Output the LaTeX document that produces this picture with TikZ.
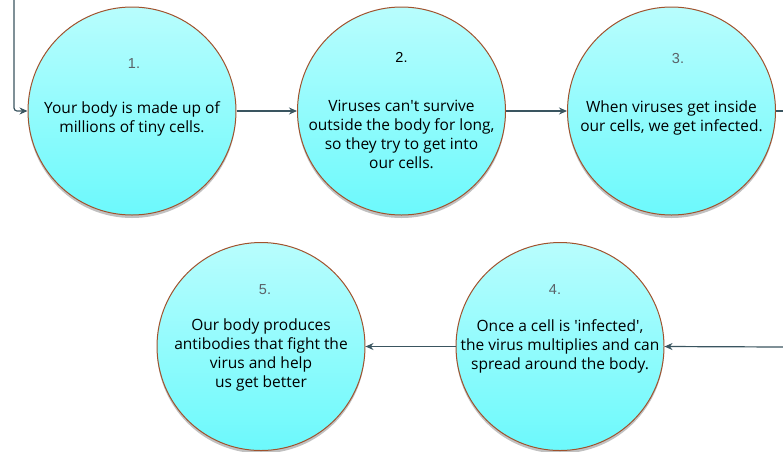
\documentclass[tikz,border=0pt]{standalone}
\usepackage{fontspec}
\setmainfont{Open Sans}
\newfontfamily\numfont{Liberation Sans}
\usetikzlibrary{shadows,arrows.meta}
\definecolor{rim}{HTML}{A0522D}
\definecolor{celltop}{HTML}{B8FDFD}
\definecolor{cellbot}{HTML}{6CF9FC}
\definecolor{conn}{HTML}{3A5560}
\definecolor{numgray}{HTML}{5A6268}
\begin{document}
\begin{tikzpicture}[x=1pt,y=-1pt,
  cell/.style={circle, minimum size=208pt, inner sep=0pt, draw=rim, line width=1pt,
    top color=celltop, bottom color=cellbot,
    drop shadow={shadow xshift=0pt, shadow yshift=-3pt, opacity=0.35, fill=black!70}},
  num/.style={font=\numfont\fontsize{14.5}{16}\selectfont, text=numgray, inner sep=0pt},
  body/.style={font=\fontsize{15.5}{19}\selectfont, align=center, anchor=north, inner sep=0pt},
  link/.style={draw=conn, line width=1.2pt, -{Stealth[length=8pt,width=7pt]}},
  plain/.style={draw=conn, line width=1.2pt}]
\useasboundingbox (0,0) rectangle (783,451);
\node[cell] (c1) at (132,111) {};
\node[cell] (c2) at (401.5,111) {};
\node[cell] (c3) at (671.5,111) {};
\node[cell] (c4) at (560,346.5) {};
\node[cell] (c5) at (261,346.5) {};
\node[num] (n1) at (134,64) {1.};
\node[num, text=black] (n2) at (401.5,57) {2.};
\node[num] (n3) at (678,59) {3.};
\node[num] (n4) at (555,290) {4.};
\node[num] (n5) at (265,290) {5.};
\node[body] (t1) at (132,101) {Your body is made up of\\millions of tiny cells.};
\node[body] (t2) at (401.5,100) {Viruses can\textquotesingle t survive\\outside the body for long,\\so they try to get into\\our cells.};
\node[body] (t3) at (671.5,101) {When viruses get inside\\our cells, we get infected.};
\node[body] (t4) at (560,319) {Once a cell is \textquotesingle infected\textquotesingle,\\the virus multiplies and can\\spread around the body.};
\node[body] (t5) at (261,319) {Our body produces\\antibodies that fight the\\virus and help\\us get better};
\coordinate (s) at (14,0);
\coordinate (e3) at (783,111);
\coordinate (e4) at (783,347);
\draw[link, rounded corners=3pt] (s) |- (c1.west);
\draw[link] (c1.east) -- (c2.west);
\draw[link] (c2.east) -- (c3.west);
\draw[plain] (c3.east) -- (e3);
\draw[link] (e4) -- (c4.east);
\draw[link] (c4.west) -- (c5.east);
\end{tikzpicture}
\end{document}
